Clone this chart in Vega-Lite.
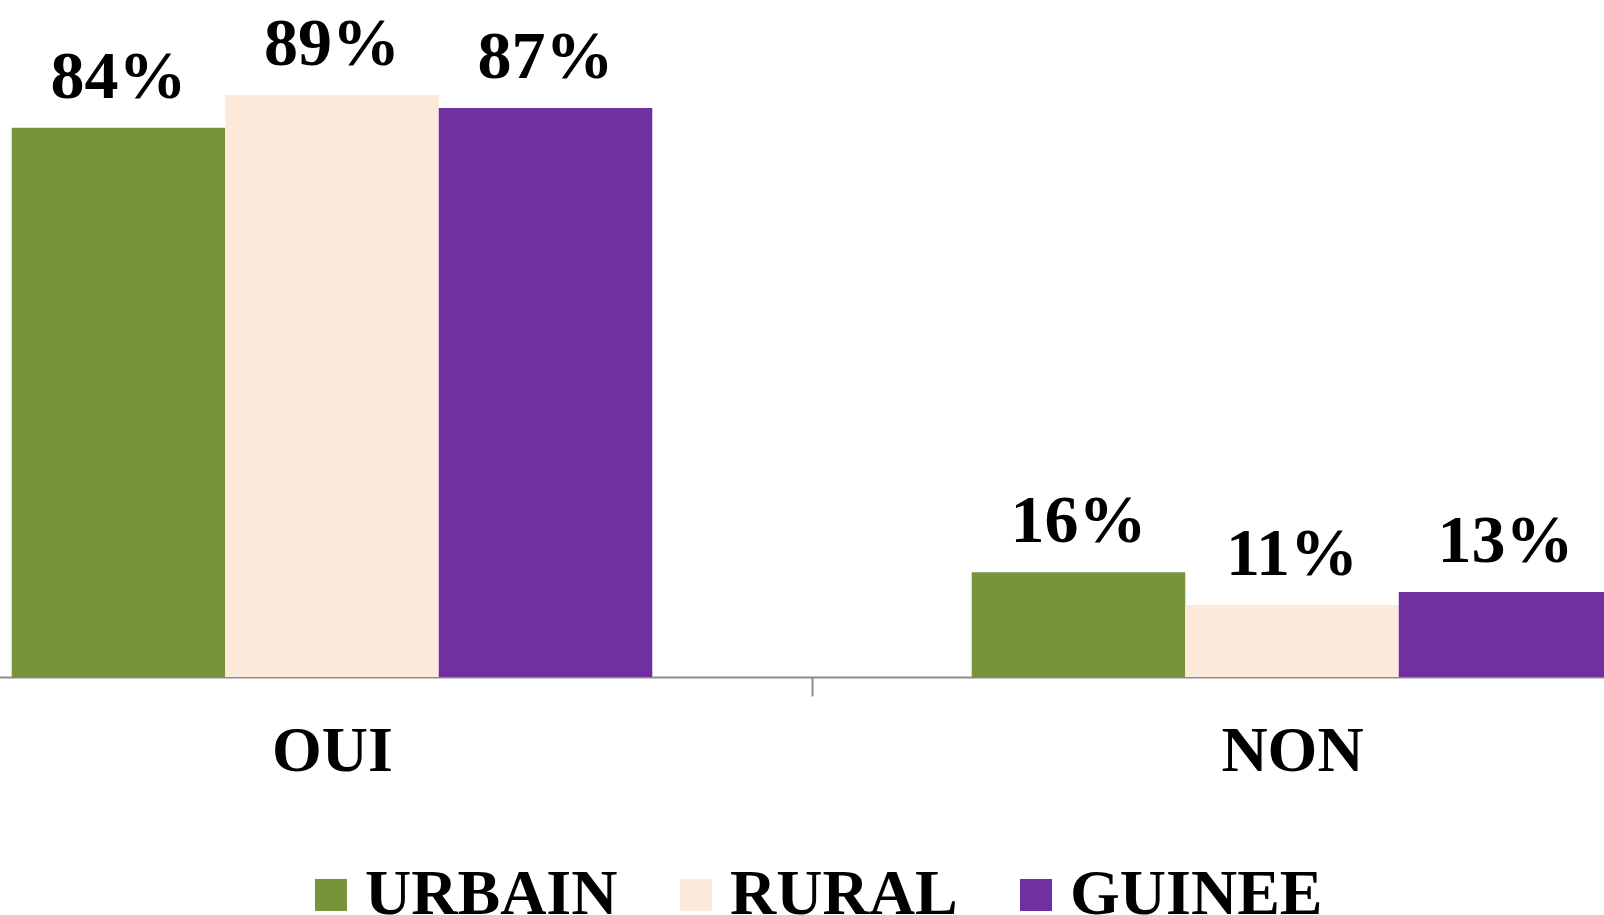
{
  "$schema": "https://vega.github.io/schema/vega-lite/v6.json",
  "autosize": {"type": "none"},
  "width": 1604,
  "height": 654,
  "padding": {"left": 0, "top": 23, "right": 0, "bottom": 238},
  "background": "white",
  "config": {"view": {"stroke": null}},
  "data": {
    "values": [
      {"reponse": "OUI", "zone": "URBAIN", "pct": 0.84},
      {"reponse": "OUI", "zone": "RURAL", "pct": 0.89},
      {"reponse": "OUI", "zone": "GUINEE", "pct": 0.87},
      {"reponse": "NON", "zone": "URBAIN", "pct": 0.16},
      {"reponse": "NON", "zone": "RURAL", "pct": 0.11},
      {"reponse": "NON", "zone": "GUINEE", "pct": 0.13}
    ]
  },
  "encoding": {
    "x": {
      "field": "reponse",
      "type": "nominal",
      "sort": ["OUI", "NON"],
      "scale": {"range": [-148, 1772], "paddingInner": 0, "paddingOuter": 0},
      "axis": {
        "title": null,
        "labelAngle": 0,
        "tickBand": "extent",
        "domainColor": "#8c8c8c",
        "domainWidth": 2,
        "tickColor": "#8c8c8c",
        "tickWidth": 2,
        "tickSize": 19,
        "labelFont": "Liberation Serif",
        "labelFontWeight": "bold",
        "labelFontSize": 64,
        "labelColor": "black",
        "labelBaseline": "alphabetic",
        "labelPadding": 74,
        "labelFlush": false,
        "labelOverlap": false
      }
    },
    "xOffset": {
      "field": "zone",
      "type": "nominal",
      "sort": ["URBAIN", "RURAL", "GUINEE"],
      "scale": {"paddingInner": 0, "paddingOuter": 0.748}
    },
    "y": {
      "field": "pct",
      "type": "quantitative",
      "scale": {"domain": [0, 1], "nice": false},
      "axis": null
    }
  },
  "layer": [
    {
      "mark": {"type": "bar"},
      "encoding": {
        "color": {
          "field": "zone",
          "type": "nominal",
          "scale": {"domain": ["URBAIN", "RURAL", "GUINEE"], "range": ["#77933C", "#FDE9D9", "#7030A0"]},
          "legend": {
            "title": null,
            "orient": "none",
            "direction": "horizontal",
            "padding": 0,
            "legendX": 299,
            "legendY": 840,
            "symbolType": "square",
            "symbolSize": 1024,
            "symbolStrokeWidth": 0,
            "symbolOpacity": 1,
            "labelFont": "Liberation Serif",
            "labelFontWeight": "bold",
            "labelFontSize": 64,
            "labelColor": "black",
            "labelLimit": 0,
            "labelOffset": 2,
            "columnPadding": 46
          }
        }
      }
    },
    {
      "mark": {
        "type": "text",
        "baseline": "alphabetic",
        "align": "center",
        "dy": -30,
        "font": "Liberation Serif",
        "fontWeight": "bold",
        "fontSize": 68,
        "color": "black"
      },
      "encoding": {
        "text": {"field": "pct", "type": "quantitative", "format": ".0%"},
        "detail": {"field": "zone"}
      }
    }
  ]
}
